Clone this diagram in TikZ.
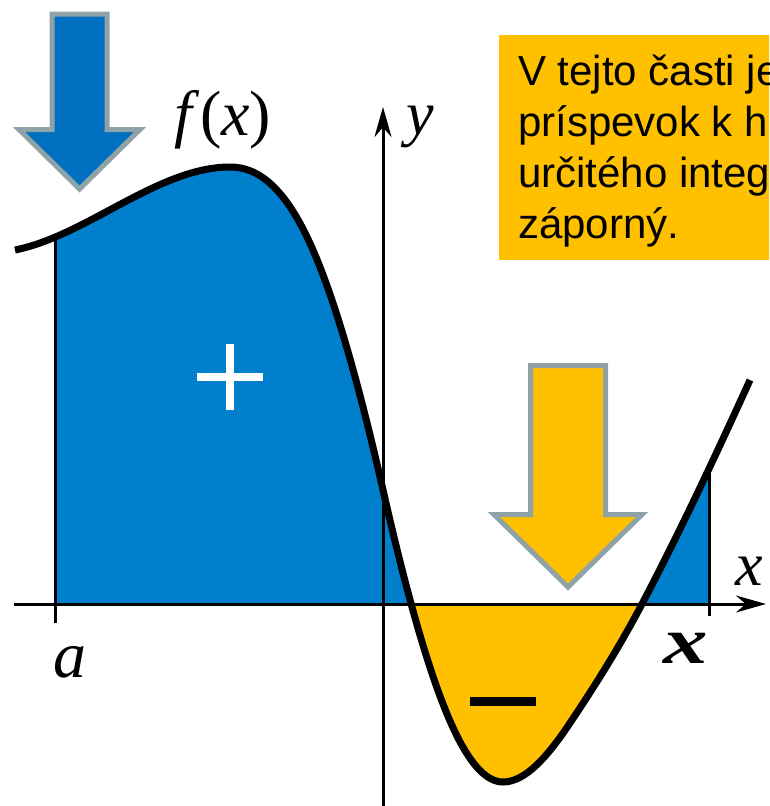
\documentclass[tikz,border=0pt]{standalone}
\usepackage{fontspec}
\setmainfont{Liberation Serif}
\newfontfamily\notefont{Liberation Sans}
\usetikzlibrary{arrows.meta}
\definecolor{areablue}{RGB}{0,128,204}
\definecolor{arrowblue}{RGB}{0,112,192}
\definecolor{areayellow}{RGB}{255,192,0}
\definecolor{rimgray}{RGB}{143,163,166}
\newcommand{\graphpath}{(15,250) .. controls (86.7,235.7) and (158.3,167) .. (230,167)
    .. controls (257.7,167) and (285.3,186.3) .. (313,250)
    .. controls (336.3,303.6) and (359.7,387.5) .. (383,490)
    .. controls (407.7,598.5) and (432.3,686.6) .. (457,736)
    .. controls (472.3,766.6) and (487.7,782) .. (503,782)
    .. controls (525.3,782) and (547.7,756.5) .. (570,723)
    .. controls (594,687) and (618,649.6) .. (642,604)
    .. controls (678,535.6) and (714,459.2) .. (750,380)}

\begin{document}
\begin{tikzpicture}[x=1pt, y=-1pt,
        axis/.style={line width=3pt, -{Stealth[length=30pt, width=17pt]}},
        bound/.style={line width=3pt},
        graph/.style={line width=7pt, line join=round},
        bigarrow/.style={draw=rimgray, line width=5pt, line join=miter},
        lbl/.style={inner sep=0pt, font=\itshape\fontsize{#1}{#1}\selectfont},
        note/.style={inner sep=0pt, anchor=base west, font=\notefont\fontsize{42}{51}\selectfont},
        sign/.style={line width=8pt},
    ]
        \clip (0,0) rectangle (769,806);

        % Areas under the graph
        \begin{scope}
            \clip (55,0) rectangle (709,604);
            \fill[areablue] \graphpath -- (750,604) -- (15,604) -- cycle;
        \end{scope}
        \begin{scope}
            \clip (55,604) rectangle (709,806);
            \fill[areayellow] \graphpath -- (750,604) -- (15,604) -- cycle;
        \end{scope}

        % Axes
        \coordinate (xstart) at (14,604);
        \coordinate (xend) at (766,604);
        \coordinate (ystart) at (383,806);
        \coordinate (yend) at (383,107);
        \draw[axis] (xstart) -- (xend);
        \draw[axis] (ystart) -- (yend);

        % Bounds of the integral
        \coordinate (afoot) at (55,623);
        \coordinate (atop) at (55,240);
        \coordinate (bfoot) at (709,616);
        \coordinate (btop) at (709,472);
        \draw[bound] (afoot) -- (atop);
        \draw[bound] (bfoot) -- (btop);

        % Graph of f
        \draw[graph] \graphpath;

        % Signs
        \draw[sign, white] (197,377) -- (263,377);
        \draw[sign, white] (230,344) -- (230,410);
        \draw[sign, line width=9pt] (470,701.5) -- (536,701.5);

        % Down arrows
        \draw[bigarrow, fill=arrowblue] (52,14) -- (107,14) -- (107,129.5) -- (140,129.5) -- (79.5,189) -- (19,129.5) -- (52,129.5) -- cycle;
        \draw[bigarrow, fill=areayellow] (530.5,365.5) -- (605.5,365.5) -- (605.5,514.5) -- (642,514.5) -- (568,587) -- (494,514.5) -- (530.5,514.5) -- cycle;

        % Labels
        \node[lbl=64] (fx) at (223,120) {f\/{\upshape(}x{\upshape)}};
        \node[lbl=62, anchor=base] (ylbl) at (420,134) {y};
        \node[lbl=66, anchor=base] (albl) at (70,677) {a};
        \node[lbl=62, anchor=base] (xlbl) at (749,585) {x};
        \node[lbl=66, anchor=base] (blbl) at (686,663) {\bfseries\scalebox{1.35}[1]{x}};

        % Note box
        \node[fill=areayellow, anchor=north west, minimum width=290pt, minimum height=225pt, inner sep=0pt] (notebox) at (499,35) {};
        \foreach \txt [count=\i] in {V tejto časti je, príspevok k h, určitého integ, záporný.}
            \node[note] (line\i) at (518, {34+51*\i}) {\txt};
\end{tikzpicture}
\end{document}
